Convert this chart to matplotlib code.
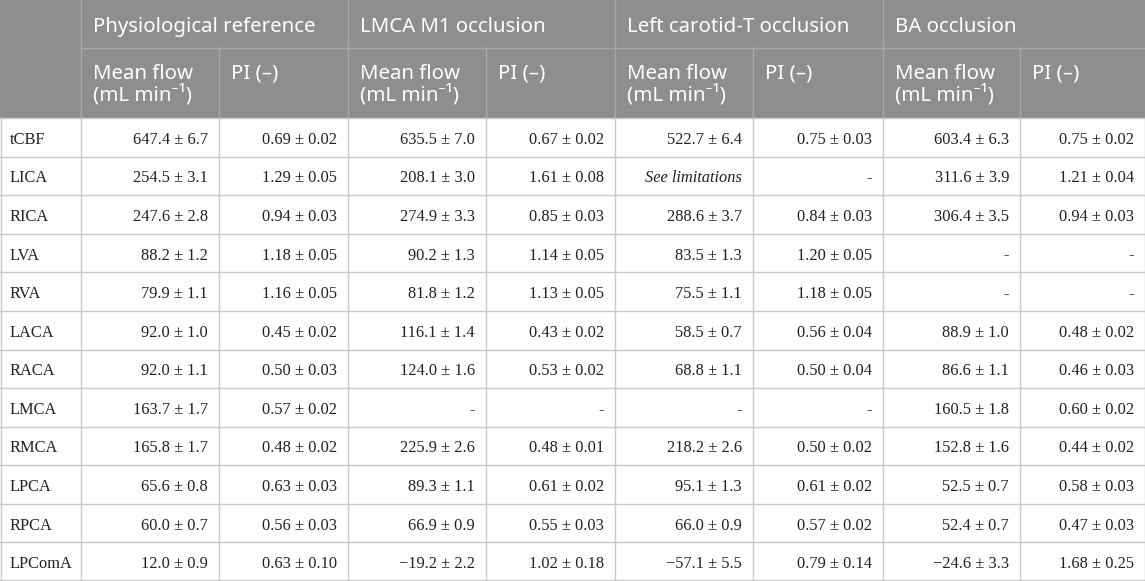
import matplotlib
matplotlib.use("Agg")
import matplotlib.pyplot as plt
from matplotlib.patches import Rectangle

# ---------------- data ----------------
vessels = ["tCBF", "LICA", "RICA", "LVA", "RVA", "LACA", "RACA",
           "LMCA", "RMCA", "LPCA", "RPCA", "LPComA"]
scenarios = ["Physiological reference", "LMCA M1 occlusion",
             "Left carotid-T occlusion", "BA occlusion"]
sub_headers = ["Mean flow\n(mL min\u207b\u00b9)", "PI (\u2013)"]

# Physiological reference
phys_flow = [647.4, 254.5, 247.6, 88.2, 79.9, 92.0, 92.0, 163.7, 165.8, 65.6, 60.0, 12.0]
phys_flow_sd = [6.7, 3.1, 2.8, 1.2, 1.1, 1.0, 1.1, 1.7, 1.7, 0.8, 0.7, 0.9]
phys_pi = [0.69, 1.29, 0.94, 1.18, 1.16, 0.45, 0.50, 0.57, 0.48, 0.63, 0.56, 0.63]
phys_pi_sd = [0.02, 0.05, 0.03, 0.05, 0.05, 0.02, 0.03, 0.02, 0.02, 0.03, 0.03, 0.10]

# LMCA M1 occlusion
m1_flow = [635.5, 208.1, 274.9, 90.2, 81.8, 116.1, 124.0, None, 225.9, 89.3, 66.9, -19.2]
m1_flow_sd = [7.0, 3.0, 3.3, 1.3, 1.2, 1.4, 1.6, None, 2.6, 1.1, 0.9, 2.2]
m1_pi = [0.67, 1.61, 0.85, 1.14, 1.13, 0.43, 0.53, None, 0.48, 0.61, 0.55, 1.02]
m1_pi_sd = [0.02, 0.08, 0.03, 0.05, 0.05, 0.02, 0.02, None, 0.01, 0.02, 0.03, 0.18]

# Left carotid-T occlusion ("See limitations" for LICA flow)
ct_flow = [522.7, "See limitations", 288.6, 83.5, 75.5, 58.5, 68.8, None, 218.2, 95.1, 66.0, -57.1]
ct_flow_sd = [6.4, None, 3.7, 1.3, 1.1, 0.7, 1.1, None, 2.6, 1.3, 0.9, 5.5]
ct_pi = [0.75, None, 0.84, 1.20, 1.18, 0.56, 0.50, None, 0.50, 0.61, 0.57, 0.79]
ct_pi_sd = [0.03, None, 0.03, 0.05, 0.05, 0.04, 0.04, None, 0.02, 0.02, 0.02, 0.14]

# BA occlusion
ba_flow = [603.4, 311.6, 306.4, None, None, 88.9, 86.6, 160.5, 152.8, 52.5, 52.4, -24.6]
ba_flow_sd = [6.3, 3.9, 3.5, None, None, 1.0, 1.1, 1.8, 1.6, 0.7, 0.7, 3.3]
ba_pi = [0.75, 1.21, 0.94, None, None, 0.48, 0.46, 0.60, 0.44, 0.58, 0.47, 1.68]
ba_pi_sd = [0.02, 0.04, 0.03, None, None, 0.02, 0.03, 0.02, 0.02, 0.03, 0.03, 0.25]

# ---------------- layout ----------------
W, H = 1145, 581
col_edges = [0, 81, 219, 348, 486, 615, 753, 883, 1020, 1145]
hdr_split = 48
hdr_bottom = 118
row_h = (H - hdr_bottom) / len(vessels)

HDR_BG = "#8e8e8e"
HDR_LINE = "#a9a9a9"
GRID = "#c9c9c9"
TXT = "#231f20"

fig = plt.figure(figsize=(W / 100, H / 100), dpi=100)
ax = fig.add_axes([0, 0, 1, 1])
ax.set_xlim(0, W)
ax.set_ylim(H, 0)
ax.axis("off")

ax.add_patch(Rectangle((0, 0), W, hdr_bottom, facecolor=HDR_BG, edgecolor="none", zorder=0))

# header lines
ax.plot([col_edges[1], W], [hdr_split, hdr_split], color=HDR_LINE, lw=1, zorder=1)
for k, x in enumerate(col_edges[1:-1]):
    if k % 2 == 0:
        ax.plot([x, x], [0, hdr_bottom], color=HDR_LINE, lw=1, zorder=1)
    else:
        ax.plot([x, x], [hdr_split, hdr_bottom], color=HDR_LINE, lw=1, zorder=1)

# body lines
for x in col_edges:
    xx = min(max(x, 0.5), W - 0.5)
    ax.plot([xx, xx], [hdr_bottom, H], color=GRID, lw=1, zorder=1)
for i in range(len(vessels) + 1):
    y = hdr_bottom + i * row_h
    y = min(y, H - 0.8)
    ax.plot([0, W], [y, y], color=GRID, lw=1, zorder=1)

hdr_font = ["Noto Sans", "DejaVu Sans"]
HDR_FS = 14.7
for g, name in enumerate(scenarios):
    x0 = col_edges[1 + 2 * g]
    ax.text(x0 + 12, 32, name, color="white", fontsize=HDR_FS, family=hdr_font,
            ha="left", va="baseline")
    for s, sub in enumerate(sub_headers):
        xs = col_edges[1 + 2 * g + s]
        lines = sub.split("\n")
        for li, t in enumerate(lines):
            ax.text(xs + 12, 79 + li * 22, t, color="white", fontsize=HDR_FS,
                    family=hdr_font, ha="left", va="baseline")


def fmt(v, sd, nd):
    if v is None:
        return "-"
    if isinstance(v, str):
        return v
    s = f"{v:.{nd}f}".replace("-", "\u2212")
    return f"{s} \u00b1 {sd:.{nd}f}"


cols = [(phys_flow, phys_flow_sd, 1), (phys_pi, phys_pi_sd, 2),
        (m1_flow, m1_flow_sd, 1), (m1_pi, m1_pi_sd, 2),
        (ct_flow, ct_flow_sd, 1), (ct_pi, ct_pi_sd, 2),
        (ba_flow, ba_flow_sd, 1), (ba_pi, ba_pi_sd, 2)]

body_font = ["Liberation Serif", "DejaVu Serif"]
BODY_FS = 11.8
for i, vname in enumerate(vessels):
    yb = hdr_bottom + (i + 0.5) * row_h + 6.5
    ax.text(10, yb, vname, color=TXT, fontsize=BODY_FS, family=body_font,
            ha="left", va="baseline")
    for c, (vals, sds, nd) in enumerate(cols):
        v = vals[i]
        txt = fmt(v, sds[i], nd)
        style = "italic" if isinstance(v, str) else "normal"
        ax.text(col_edges[c + 2] - 11, yb, txt, color=TXT, fontsize=BODY_FS,
                family=body_font, style=style, ha="right", va="baseline")

fig.savefig("out.png", dpi=100)
